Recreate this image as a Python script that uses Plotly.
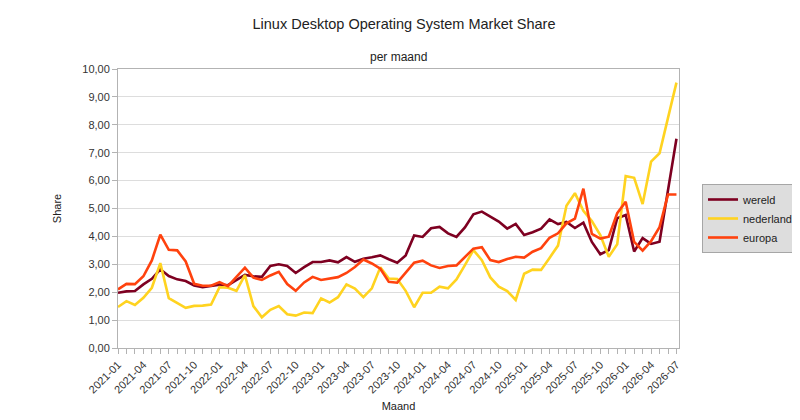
import plotly.graph_objects as go

# months 2021-01 .. 2026-07
maanden = [f"{j}-{m:02d}" for j in range(2021, 2027) for m in range(1, 13)][:67]

wereld = [1.98, 2.03, 2.04, 2.28, 2.48, 2.82, 2.58, 2.46, 2.40, 2.24, 2.18, 2.23,
          2.27, 2.25, 2.42, 2.62, 2.57, 2.55, 2.94, 3.00, 2.94, 2.69, 2.90, 3.08,
          3.08, 3.14, 3.07, 3.26, 3.09, 3.20, 3.25, 3.32, 3.18, 3.06, 3.32, 4.03,
          3.98, 4.29, 4.34, 4.11, 3.98, 4.32, 4.79, 4.89, 4.71, 4.53, 4.28, 4.45,
          4.05, 4.15, 4.28, 4.61, 4.44, 4.52, 4.30, 4.49, 3.80, 3.36, 3.51, 4.65,
          4.77, 3.46, 3.94, 3.73, 3.81, 5.65, 7.50]

nederland = [1.47, 1.68, 1.54, 1.80, 2.16, 3.04, 1.79, 1.61, 1.44, 1.51, 1.52, 1.56,
             2.18, 2.16, 2.05, 2.61, 1.50, 1.10, 1.37, 1.50, 1.21, 1.16, 1.27, 1.25,
             1.78, 1.63, 1.82, 2.28, 2.13, 1.82, 2.14, 2.89, 2.49, 2.47, 2.05, 1.46,
             1.98, 1.98, 2.20, 2.14, 2.46, 2.97, 3.51, 3.15, 2.53, 2.20, 2.04, 1.72,
             2.66, 2.81, 2.80, 3.23, 3.67, 5.10, 5.55, 4.92, 4.55, 4.05, 3.27, 3.72,
             6.16, 6.10, 5.16, 6.68, 6.98, 8.25, 9.51]

europa = [2.10, 2.30, 2.29, 2.57, 3.14, 4.06, 3.52, 3.50, 3.10, 2.30, 2.23, 2.23,
          2.36, 2.22, 2.55, 2.88, 2.52, 2.44, 2.60, 2.73, 2.29, 2.05, 2.35, 2.55,
          2.44, 2.50, 2.54, 2.69, 2.90, 3.17, 3.03, 2.84, 2.37, 2.34, 2.70, 3.06,
          3.13, 2.96, 2.87, 2.94, 2.96, 3.25, 3.56, 3.61, 3.15, 3.08, 3.19, 3.27,
          3.24, 3.45, 3.58, 3.95, 4.11, 4.47, 4.64, 5.71, 4.09, 3.92, 3.99, 4.83,
          5.24, 3.80, 3.49, 3.83, 4.33, 5.50, 5.50]

# label every third month, tick on every month
tick_text = [m if i % 3 == 0 else "" for i, m in enumerate(maanden)]

series = [
    ("wereld", wereld, "#7e0021"),
    ("nederland", nederland, "#ffd320"),
    ("europa", europa, "#ff420e"),
]

fig = go.Figure()
for name, vals, col in series:
    fig.add_trace(go.Scatter(
        x=maanden, y=vals, mode="lines", name=name,
        line=dict(color=col, width=2.6),
    ))

# the page body adds an 8px margin, so the figure is 8px smaller on each side
fig.update_layout(
    width=792, height=404,
    paper_bgcolor="white", plot_bgcolor="white",
    separators=",.",
    font=dict(family="Liberation Sans, Arial, sans-serif", size=11, color="#333333"),
    margin=dict(l=110, r=121, t=61, b=64, autoexpand=False),
    title=dict(text="Linux Desktop Operating System Market Share",
               x=0.5, xanchor="center", y=1 - 16 / 404, yanchor="middle",
               font=dict(size=14.5, color="#222222")),
    legend=dict(
        xref="container", yref="container", x=694 / 792, y=1 - 176 / 404,
        xanchor="left", yanchor="top",
        bgcolor="#dddddd", bordercolor="#a6a6a6", borderwidth=1,
        font=dict(size=11, color="#222222"), itemwidth=30,
        tracegroupgap=0,
    ),
    annotations=[dict(text="per maand", xref="paper", yref="paper",
                      x=0.5, y=1.043, yanchor="middle", showarrow=False,
                      font=dict(size=12, color="#222222"))],
)

fig.update_xaxes(
    type="category", range=[0, 66.3],
    tickmode="array", tickvals=maanden, ticktext=tick_text,
    tickangle=-45, ticks="outside", ticklen=5, tickcolor="#b3b3b3",
    showgrid=False, showline=True, linecolor="#b3b3b3", mirror=True,
    title=dict(text="Maand", standoff=13, font=dict(size=11, color="#222222")),
    tickfont=dict(size=11),
)
fig.update_yaxes(
    range=[0, 10], dtick=1, tickformat=".2f",
    showgrid=True, gridcolor="#dddddd", gridwidth=1,
    ticks="outside", ticklen=5, tickcolor="#b3b3b3",
    showline=True, linecolor="#b3b3b3", mirror=True, zeroline=False,
    title=dict(text="Share", standoff=18, font=dict(size=11, color="#222222")),
)

fig.write_html("out.html")
